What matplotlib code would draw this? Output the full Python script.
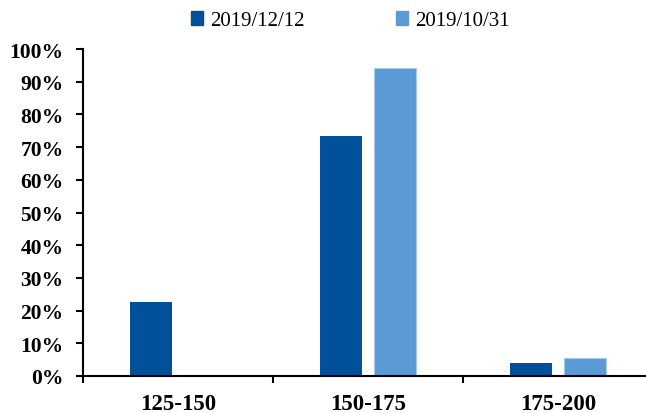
import numpy as np
import matplotlib.pyplot as plt
from matplotlib.patches import Patch

# === 資料 ===
categories = ['125-150', '150-175', '175-200']
series_names = ['2019/12/12', '2019/10/31']
share_1212 = [0.226, 0.734, 0.041]
share_1031 = [0.0, 0.942, 0.056]

colors = ['#00519a', '#5b9bd5']

plt.rcParams['font.family'] = ['Liberation Serif', 'DejaVu Serif']

fig = plt.figure(figsize=(6.46, 4.14), dpi=100)
ax = fig.add_axes([83 / 646, 1 - 377 / 414, 570 / 646, 327 / 414])

x = np.arange(len(categories))
width = 0.221
offset = 0.142
ax.bar(x - offset, share_1212, width, color=colors[0], linewidth=0)
ax.bar(x + offset, share_1031, width, color=colors[1], edgecolor='#a8c8ec', linewidth=0.8)

ax.set_xlim(-0.5, len(categories) - 0.5)
ax.set_ylim(0, 1)

ax.set_yticks(np.arange(0, 1.01, 0.1))
ax.set_yticklabels([f'{int(round(v * 100))}%' for v in np.arange(0, 1.01, 0.1)],
                   fontsize=15.5, fontweight='bold')

# 類別邊界的刻度
ax.set_xticks(np.arange(-0.5, len(categories), 1.0))
ax.set_xticklabels([])
ax.set_xticks(x, minor=True)
ax.set_xticklabels(categories, minor=True, fontsize=16.5, fontweight='bold')
ax.tick_params(axis='x', which='minor', length=0, pad=12)
ax.tick_params(axis='x', which='major', direction='out', length=5, width=1.5)
ax.tick_params(axis='y', direction='out', length=5, width=1.5, pad=9)

for side in ['top', 'right']:
    ax.spines[side].set_visible(False)
for side in ['left', 'bottom']:
    ax.spines[side].set_linewidth(1.5)

handles = [Patch(color=c) for c in colors]
fig.legend(handles, series_names, loc='center', bbox_to_anchor=(0.542, 0.947),
           ncol=2, frameon=False, fontsize=15, handlelength=0.6, handleheight=0.6,
           handletextpad=0.3, columnspacing=4.4)

fig.savefig('out.png', dpi=100)
